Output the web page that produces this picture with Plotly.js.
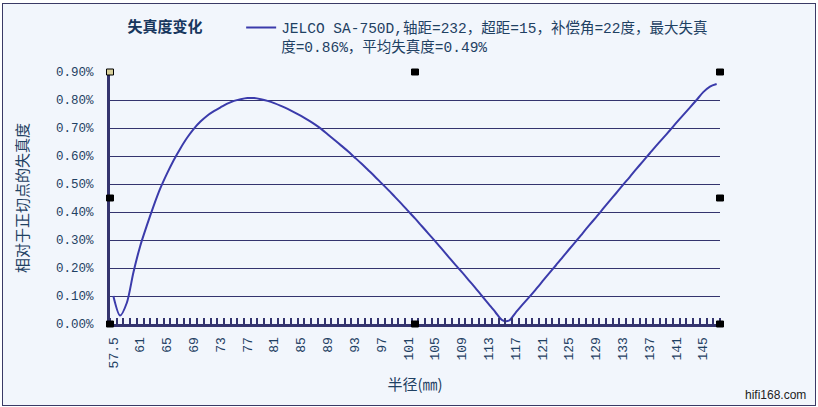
<!DOCTYPE html>
<html>
<head>
<meta charset="utf-8">
<script src="https://cdn.plot.ly/plotly-3.0.1.min.js"></script>
<style>
  html, body { margin: 0; padding: 0; background: #ffffff; }
  #frame { position: absolute; left: 2px; top: 3px; width: 812px; height: 401px;
           border: 1px solid #3a3a66; background: #f2f6fc; }
  #chart { position: absolute; left: 0; top: 0; width: 818px; height: 407px; }
</style>
</head>
<body>
<div id="frame"></div>
<div id="chart"></div>
<script>
// Categories (radius, mm)
const categories = ["57.5","58","59","60","61","62","63","64","65","66","67","68","69","70","71","72","73","74","75","76","77","78","79","80","81","82","83","84","85","86","87","88","89","90","91","92","93","94","95","96","97","98","99","100","101","102","103","104","105","106","107","108","109","110","111","112","113","114","115","116","117","118","119","120","121","122","123","124","125","126","127","128","129","130","131","132","133","134","135","136","137","138","139","140","141","142","143","144","145","146","147"];

// Distortion relative to tangent point (%)
const distortion = [0.100,0.030,0.075,0.185,0.278,0.352,0.421,0.484,0.537,0.585,0.627,0.665,0.697,0.723,0.744,0.760,0.774,0.787,0.797,0.803,0.807,0.807,0.803,0.797,0.789,0.779,0.768,0.756,0.743,0.729,0.714,0.697,0.677,0.657,0.637,0.617,0.595,0.573,0.550,0.527,0.503,0.479,0.454,0.429,0.403,0.377,0.350,0.323,0.296,0.268,0.240,0.212,0.185,0.157,0.129,0.100,0.071,0.042,0.014,0.012,0.040,0.068,0.095,0.123,0.152,0.181,0.209,0.238,0.267,0.295,0.324,0.353,0.381,0.410,0.439,0.467,0.496,0.524,0.553,0.581,0.609,0.637,0.664,0.691,0.719,0.746,0.773,0.800,0.828,0.848,0.857];

const yTicks = [0, 0.1, 0.2, 0.3, 0.4, 0.5, 0.6, 0.7, 0.8, 0.9];
const seriesName = "JELCO SA-750D,轴距=232，超距=15，补偿角=22度，最大失真<br>度=0.86%，平均失真度=0.49%";
const chartTitle = "失真度变化";
const xTitle = "半径(㎜)";
const yTitle = "相对于正切点的失真度";
const watermark = "hifi168.com";
const labelEvery = 4;

const idx = categories.map((c, i) => i);
const tickIdx = idx.filter(i => i % labelEvery === 0);
const tickTxt = tickIdx.map(i => categories[i]);
const yTickTxt = yTicks.map(v => v.toFixed(2) + "%");

const NAVY = "#34346e";
const TXT = "#1f4163";
const MONO = "Liberation Mono, Noto Sans CJK SC, monospace";
const CJK = "Noto Sans CJK SC, sans-serif";

function handle(xp, yp, fill) {
  return {type: "rect", xref: "paper", yref: "paper", xsizemode: "pixel", ysizemode: "pixel",
          xanchor: xp, yanchor: yp, x0: -3.5, x1: 3.5, y0: -3, y1: 3,
          fillcolor: fill, line: {color: "#000000", width: 1}, layer: "above"};
}

const trace = {
  x: idx, y: distortion, type: "scatter", mode: "lines",
  name: seriesName,
  line: {color: "#3b3bab", width: 2, shape: "spline", smoothing: 0.8},
  hoverinfo: "skip"
};

const layout = {
  width: 818, height: 407,
  margin: {l: 110, r: 98, t: 69, b: 83},
  paper_bgcolor: "rgba(0,0,0,0)",
  plot_bgcolor: "rgba(0,0,0,0)",
  font: {family: MONO, color: TXT, size: 13},
  title: {text: chartTitle, font: {family: CJK, size: 15, color: "#17375e", weight: "bold"},
          x: 0.2017, xanchor: "center", xref: "container", y: 0.934, yanchor: "middle", yref: "container"},
  showlegend: true,
  legend: {x: 0.215, xanchor: "left", y: 1.24, yanchor: "top", valign: "top",
           bgcolor: "rgba(0,0,0,0)", borderwidth: 0,
           font: {family: MONO, size: 14.5, color: TXT}},
  xaxis: {
    range: [-0.5, categories.length - 0.5],
    tickmode: "array", tickvals: tickIdx, ticktext: tickTxt, tickangle: -90,
    ticks: "", showgrid: false, zeroline: false,
    showline: true, linecolor: NAVY, linewidth: 3,
    tickfont: {family: MONO, size: 13, color: TXT},
    ticklabelstandoff: 5,
    minor: {ticks: "inside", tickmode: "linear", tick0: -0.5, dtick: 1, ticklen: 6, tickwidth: 2, tickcolor: NAVY, showgrid: false},
    title: {text: xTitle, font: {family: CJK, size: 15, color: TXT}, standoff: 13},
    fixedrange: true
  },
  yaxis: {
    range: [0, 0.9], tickmode: "array", tickvals: yTicks, ticktext: yTickTxt,
    showgrid: true, gridcolor: NAVY, gridwidth: 1,
    zeroline: false, showline: true, linecolor: NAVY, linewidth: 3,
    ticks: "", ticklabelstandoff: 11,
    tickfont: {family: MONO, size: 12.5, color: TXT},
    title: {text: yTitle, font: {family: CJK, size: 15, color: TXT}, standoff: 24},
    fixedrange: true
  },
  shapes: [
    handle(0, 1, "#d8cf9a"), handle(0.5, 1, "#000000"), handle(1, 1, "#000000"),
    handle(0, 0.5, "#000000"), handle(1, 0.5, "#000000"),
    handle(0, 0, "#000000"), handle(0.5, 0, "#000000"), handle(1, 0, "#000000")
  ],
  annotations: [
    {text: watermark, xref: "paper", yref: "paper", x: 1.0918, y: -0.28, xanchor: "center", yanchor: "middle",
     showarrow: false, font: {family: "Liberation Sans, Arial, sans-serif", size: 12, color: "#222222"}}
  ]
};

Plotly.newPlot("chart", [trace], layout, {displayModeBar: false, staticPlot: true});
</script>
</body>
</html>
